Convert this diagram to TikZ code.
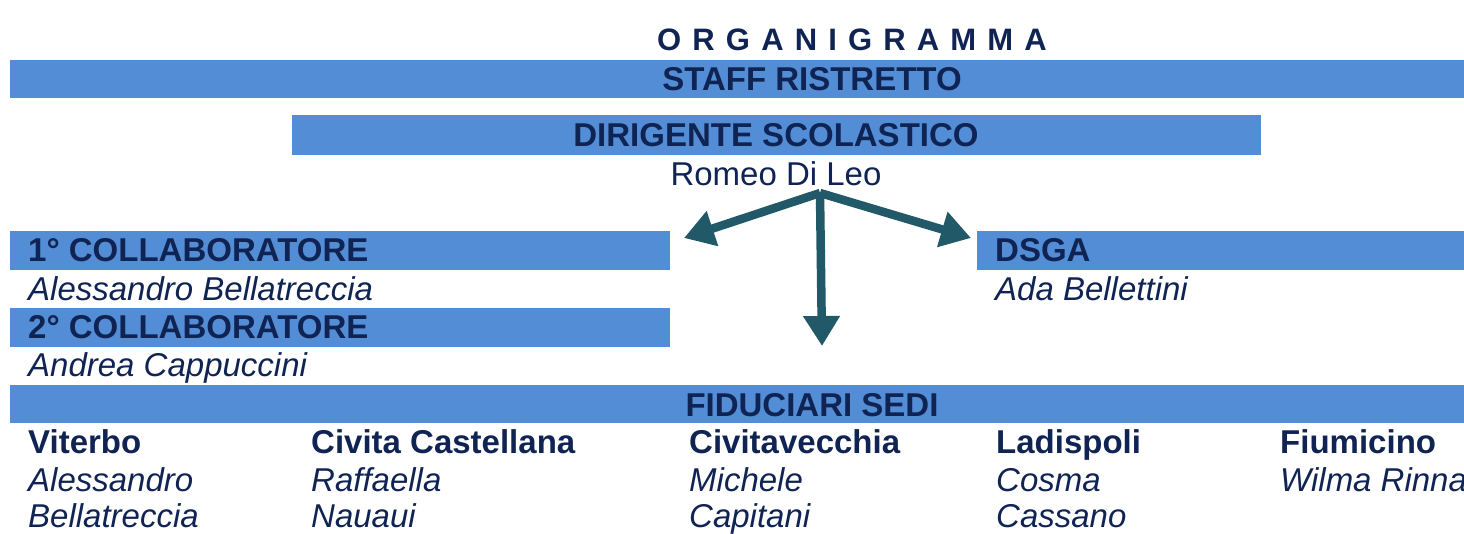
\documentclass[tikz,border=0pt]{standalone}
\usepackage{fontspec}
\setmainfont{Liberation Sans}
\usetikzlibrary{arrows.meta}
\definecolor{barblue}{RGB}{83,141,213}
\definecolor{navy}{RGB}{16,36,84}
\definecolor{arrowteal}{RGB}{33,89,104}
\tikzstyle{bar}=[fill=barblue, inner sep=0pt, outer sep=0pt, anchor=north west]
\tikzstyle{heading}=[font=\bfseries\fontsize{33}{39}\selectfont, text=navy,
inner sep=0pt, anchor=base]
\tikzstyle{person}=[font=\itshape\fontsize{33}{39}\selectfont, text=navy,
inner sep=0pt, anchor=base west]
\tikzstyle{link}=[draw=arrowteal, line width=8.5pt,
-{Triangle[length=30pt,width=35pt]}]

\begin{document}
\begin{tikzpicture}[x=1pt,y=-1pt]
\useasboundingbox (0,0) rectangle (1464,534);
\node[heading, anchor=base west, font={\bfseries\fontsize{31}{37}\selectfont\addfontfeatures{LetterSpace=36}}](title) at (657,51) {ORGANIGRAMMA};
% bars
\node[bar, minimum width=1454pt, minimum height=38pt](staffbar) at (10,60) {};
\node[bar, minimum width=969pt, minimum height=40pt](dirbar) at (292,115) {};
\node[bar, minimum width=660pt, minimum height=39pt](collab1bar) at (10,231) {};
\node[bar, minimum width=660pt, minimum height=39pt](collab2bar) at (10,308) {};
\node[bar, minimum width=487pt, minimum height=39pt](dsgabar) at (977,231) {};
\node[bar, minimum width=1454pt, minimum height=38pt](fidbar) at (10,385) {};
% headings
\node[heading](staff) at (812,91) {STAFF RISTRETTO};
\node[heading](dirigente) at (776,147) {DIRIGENTE SCOLASTICO};
\node[heading, font=\fontsize{33}{39}\selectfont](romeo) at (776,186) {Romeo Di Leo};
\node[heading, anchor=base west](collab1) at (28,262) {1° COLLABORATORE};
\node[person](collab1name) at (28,301) {Alessandro Bellatreccia};
\node[heading, anchor=base west](collab2) at (28,339) {2° COLLABORATORE};
\node[person](collab2name) at (28,377) {Andrea Cappuccini};
\node[heading, anchor=base west](dsga) at (995,262) {DSGA};
\node[person](dsganame) at (995,301) {Ada Bellettini};
\node[heading](fiduciari) at (812,416) {FIDUCIARI SEDI};
% sedi
\node[heading, anchor=base west](viterbo) at (28,453) {Viterbo};
\node[person](viterbo1) at (28,491) {Alessandro};
\node[person](viterbo2) at (28,527) {Bellatreccia};
\node[heading, anchor=base west](civita) at (311,453) {Civita Castellana};
\node[person](civita1) at (311,491) {Raffaella};
\node[person](civita2) at (311,527) {Nauaui};
\node[heading, anchor=base west](civitav) at (689,453) {Civitavecchia};
\node[person](civitav1) at (689,491) {Michele};
\node[person](civitav2) at (689,527) {Capitani};
\node[heading, anchor=base west](ladispoli) at (996,453) {Ladispoli};
\node[person](ladispoli1) at (996,491) {Cosma};
\node[person](ladispoli2) at (996,527) {Cassano};
\node[heading, anchor=base west](fiumicino) at (1280,453) {Fiumicino};
\node[person](fiumicino1) at (1280,491) {Wilma Rinna};
% arrows
\coordinate (hub) at (820,193);
\coordinate (lefttip) at (684,238);
\coordinate (righttip) at (971,238);
\coordinate (downtip) at (822,346);
\draw [link](hub) -- (lefttip);
\draw [link](hub) -- (righttip);
\draw [link](hub) -- (downtip);
\end{tikzpicture}
\end{document}
